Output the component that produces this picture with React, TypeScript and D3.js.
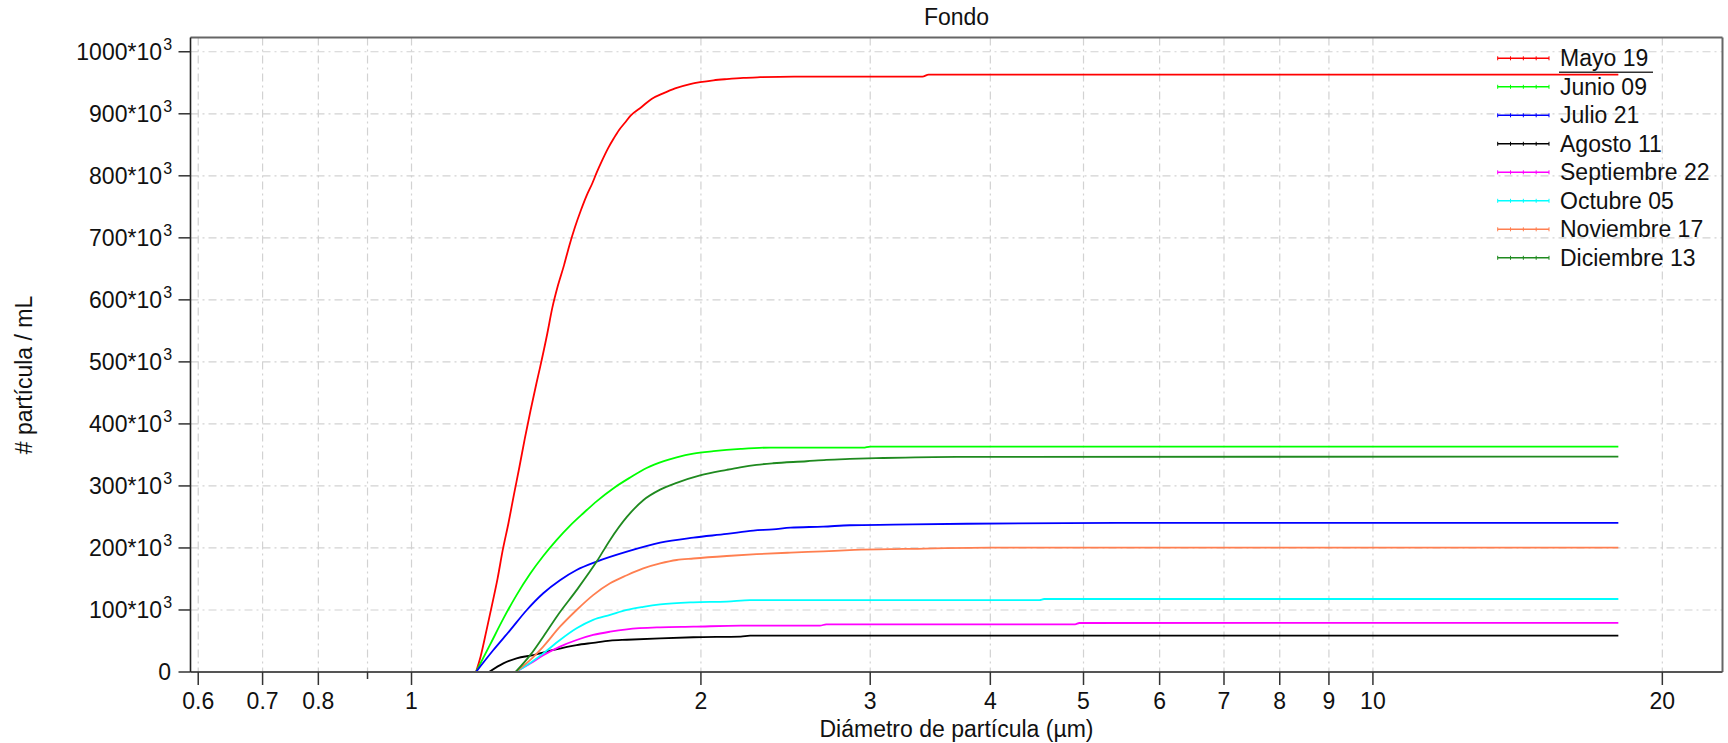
import React from "react";
import * as d3 from "d3";

const W = 1728;
const H = 743;

// ---------- data (diameter in µm, counts in thousands / mL) ----------
const TITLE = "Fondo";
const X_TITLE = "Diámetro de partícula (µm)";
const Y_TITLE = "# partícula / mL";

const X_DOMAIN = [0.589, 23.1];
const Y_MAX = 1023;
const X_TICKS = [0.6, 0.7, 0.8, 0.9, 1, 2, 3, 4, 5, 6, 7, 8, 9, 10, 20];
const X_TICK_LABELS = ["0.6", "0.7", "0.8", "", "1", "2", "3", "4", "5", "6", "7", "8", "9", "10", "20"];
const Y_TICKS = [0, 100, 200, 300, 400, 500, 600, 700, 800, 900, 1000];

const SERIES_NAMES = ["Mayo 19", "Junio 09", "Julio 21", "Agosto 11", "Septiembre 22", "Octubre 05", "Noviembre 17", "Diciembre 13"];
const SERIES_COLORS = ["#ff0000", "#00ff00", "#0000ff", "#000000", "#ff00ff", "#00ffff", "#ff7f50", "#1f8a1f"];

const MAYO_D = [1.167, 1.18, 1.197, 1.213, 1.229, 1.244, 1.261, 1.278, 1.295, 1.312, 1.33, 1.349, 1.36, 1.384, 1.401, 1.42, 1.441, 1.459, 1.479, 1.5, 1.521, 1.542, 1.558, 1.58, 1.602, 1.624, 1.644, 1.668, 1.69, 1.735, 1.777, 1.827, 1.88, 1.949, 1.996, 2.061, 2.128, 2.214, 2.305, 2.5, 3.4, 3.45, 18.0];
const MAYO_N = [0, 25, 68, 109, 151, 196, 239, 286, 331, 377, 422, 466, 490, 545, 587, 623, 656, 687, 717, 744, 768, 788, 805, 826, 845, 861, 874, 886, 897, 911, 924, 933, 941, 948, 951, 954, 956, 958, 959, 960, 960, 963, 963];

const JUNIO_D = [1.167, 1.207, 1.246, 1.286, 1.328, 1.371, 1.416, 1.462, 1.509, 1.56, 1.621, 1.69, 1.756, 1.83, 1.887, 1.964, 2.061, 2.2, 2.36, 2.95, 3.0, 18.0];
const JUNIO_N = [0, 44, 86, 124, 158, 187, 213, 236, 256, 276, 296, 314, 329, 340, 346, 352, 356, 359.7, 361.8, 361.8, 363.5, 363.5];

const JULIO_D = [1.167, 1.216, 1.266, 1.318, 1.371, 1.427, 1.485, 1.558, 1.675, 1.814, 1.964, 2.128, 2.267, 2.377, 2.479, 2.68, 2.857, 3.17, 3.78, 5.41, 18.0];
const JULIO_N = [0, 35, 67, 100, 127, 148, 164.5, 178, 194, 208.5, 216.6, 222.6, 228, 230, 232.8, 234.4, 236.6, 237.6, 239, 240.5, 240.5];

const AGOSTO_D = [1.204, 1.246, 1.286, 1.339, 1.404, 1.485, 1.545, 1.609, 1.675, 1.814, 1.964, 2.2, 2.25, 18.0];
const AGOSTO_N = [0, 14, 22, 27.4, 35.5, 43.5, 47, 50.5, 52, 54.3, 56, 57, 58.5, 58.5];

const SEPT_D = [1.283, 1.33, 1.371, 1.427, 1.485, 1.545, 1.609, 1.675, 1.814, 1.964, 2.2, 2.66, 2.7, 4.9, 4.95, 18.0];
const SEPT_N = [0, 14, 27, 41, 51.6, 59.7, 65, 68.8, 72, 73, 74.7, 74.7, 76.9, 76.9, 79, 79.3];

const OCT_D = [1.283, 1.33, 1.371, 1.427, 1.485, 1.545, 1.609, 1.675, 1.742, 1.814, 1.964, 2.128, 2.25, 4.5, 4.55, 18.0];
const OCT_N = [0, 15, 30, 51.6, 70.4, 84, 92, 100, 105, 109, 112.4, 113.5, 116, 116, 117.7, 117.7];

const NOV_D = [1.283, 1.33, 1.371, 1.427, 1.485, 1.545, 1.609, 1.675, 1.742, 1.814, 1.887, 1.964, 2.128, 2.285, 2.479, 2.68, 2.89, 3.25, 4.0, 18.0];
const NOV_N = [0, 20, 41, 73, 100, 124, 143, 156, 167, 175, 180.6, 183, 187, 190, 192.5, 194.6, 196.8, 198.4, 200.5, 200.5];

const DIC_D = [1.283, 1.33, 1.371, 1.42, 1.485, 1.558, 1.609, 1.675, 1.742, 1.814, 1.887, 1.996, 2.128, 2.197, 2.285, 2.377, 2.576, 2.7, 2.857, 3.096, 3.69, 18.0];
const DIC_N = [0, 28, 57, 92, 132, 178, 213, 250, 277, 294, 305, 317, 326, 330, 334, 336.6, 339.8, 342, 343.5, 345, 346.8, 347.3];

const SERIES_D = [MAYO_D, JUNIO_D, JULIO_D, AGOSTO_D, SEPT_D, OCT_D, NOV_D, DIC_D];
const SERIES_N = [MAYO_N, JUNIO_N, JULIO_N, AGOSTO_N, SEPT_N, OCT_N, NOV_N, DIC_N];

// ---------- layout ----------
const PLOT = { left: 190.5, right: 1722.5, top: 37.5, bottom: 672 };
const FONT = "'Liberation Sans', Arial, Helvetica, sans-serif";
const FS = 23;

export default function App() {
  const x = d3.scaleLog().domain(X_DOMAIN).range([PLOT.left, PLOT.right]);
  const y = d3.scaleLinear().domain([0, Y_MAX]).range([PLOT.bottom, PLOT.top]);

  const line = d3
    .line<[number, number]>()
    .x((d) => x(d[0]))
    .y((d) => y(d[1]))
    .curve(d3.curveMonotoneX);

  const gridStyle = { stroke: "#d2d2d2", strokeWidth: 1.2, strokeDasharray: "8 4 2 4" };

  const legendX1 = 1497.7;
  const legendX2 = 1549;
  const legendTextX = 1560;
  const legendY0 = 58.3;
  const legendStep = 28.5;

  return (
    <svg
      width={W}
      height={H}
      style={{ position: "absolute", left: 0, top: 0, display: "block", background: "#fff" }}
      fontFamily={FONT}
    >
      <rect x={0} y={0} width={W} height={H} fill="#fff" />
      {/* grid */}
      <g>
        {Y_TICKS.filter((t) => t > 0).map((t) => (
          <line key={"gy" + t} x1={PLOT.left} x2={PLOT.right} y1={y(t)} y2={y(t)} {...gridStyle} />
        ))}
        {X_TICKS.map((t) => (
          <line key={"gx" + t} x1={x(t)} x2={x(t)} y1={PLOT.top} y2={PLOT.bottom} {...gridStyle} />
        ))}
      </g>

      {/* series */}
      <g fill="none">
        {SERIES_D.map((ds, i) => {
          const pts = ds.map((d, j) => [d, SERIES_N[i][j]] as [number, number]);
          return (
            <path
              key={SERIES_NAMES[i]}
              d={line(pts) || ""}
              stroke={SERIES_COLORS[i]}
              strokeWidth={1.8}
              strokeLinejoin="round"
            />
          );
        })}
      </g>

      {/* frame */}
      <line x1={PLOT.left} x2={PLOT.right} y1={PLOT.top} y2={PLOT.top} stroke="#666" strokeWidth={2} />
      <line x1={PLOT.right} x2={PLOT.right} y1={PLOT.top} y2={PLOT.bottom} stroke="#666" strokeWidth={2} />
      <line x1={PLOT.left} x2={PLOT.right} y1={PLOT.bottom} y2={PLOT.bottom} stroke="#555" strokeWidth={2} />
      <line x1={PLOT.left} x2={PLOT.left} y1={PLOT.top} y2={PLOT.bottom} stroke="#222" strokeWidth={1.6} />

      {/* y axis ticks & labels */}
      <g fontSize={FS} fill="#111">
        {Y_TICKS.map((t) => (
          <g key={"yt" + t}>
            <line x1={PLOT.left - 12} x2={PLOT.left} y1={y(t)} y2={y(t)} stroke="#333" strokeWidth={1.5} />
            {t === 0 ? (
              <text x={171} y={y(t) + 8} textAnchor="end">
                0
              </text>
            ) : (
              <>
                <text x={162} y={y(t) + 8} textAnchor="end">
                  {t + "*10"}
                </text>
                <text x={163.3} y={y(t) - 2} fontSize={16}>
                  3
                </text>
              </>
            )}
          </g>
        ))}
      </g>

      {/* x axis ticks & labels */}
      <g fontSize={FS} fill="#111">
        {X_TICKS.map((t, i) => (
          <g key={"xt" + t}>
            <line
              x1={x(t)}
              x2={x(t)}
              y1={PLOT.bottom}
              y2={PLOT.bottom + (X_TICK_LABELS[i] ? 13 : 7)}
              stroke="#333"
              strokeWidth={1.5}
            />
            {X_TICK_LABELS[i] && (
              <text x={x(t)} y={708.5} textAnchor="middle">
                {X_TICK_LABELS[i]}
              </text>
            )}
          </g>
        ))}
      </g>

      {/* titles */}
      <text x={(PLOT.left + PLOT.right) / 2} y={25} textAnchor="middle" fontSize={FS} fill="#111">
        {TITLE}
      </text>
      <text x={(PLOT.left + PLOT.right) / 2} y={737} textAnchor="middle" fontSize={FS} fill="#111">
        {X_TITLE}
      </text>
      <text
        transform={`translate(32, 375) rotate(-90)`}
        textAnchor="middle"
        fontSize={FS}
        fill="#111"
      >
        {Y_TITLE}
      </text>

      {/* legend */}
      <g fontSize={FS} fill="#111">
        {SERIES_NAMES.map((name, i) => {
          const ly = legendY0 + i * legendStep;
          const ticks = d3.range(5).map((k) => legendX1 + ((legendX2 - legendX1) * k) / 4);
          return (
            <g key={"lg" + name}>
              <line x1={legendX1} x2={legendX2} y1={ly} y2={ly} stroke={SERIES_COLORS[i]} strokeWidth={1.6} />
              {ticks.map((tx, k) => (
                <line key={k} x1={tx} x2={tx} y1={ly - 2} y2={ly + 2} stroke={SERIES_COLORS[i]} strokeWidth={1} />
              ))}
              <text x={legendTextX} y={ly + 8}>
                {name}
              </text>
            </g>
          );
        })}
        <line x1={1559} x2={1653} y1={72.3} y2={72.3} stroke="#333" strokeWidth={1.5} />
      </g>
    </svg>
  );
}
